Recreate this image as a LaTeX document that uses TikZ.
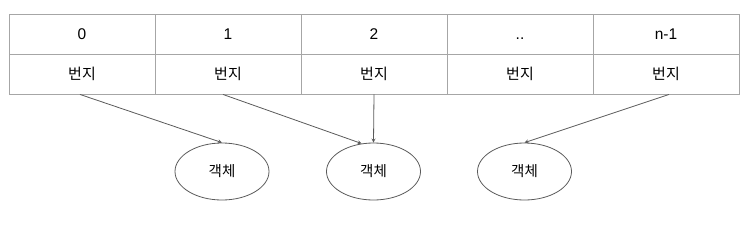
\documentclass[tikz,border=0pt]{standalone}
\usepackage{fontspec}
\usetikzlibrary{shapes.geometric}
\setmainfont{Liberation Sans}
\newfontfamily\kofont{Noto Sans CJK KR}
\definecolor{cellgray}{HTML}{A6A6A6}
\definecolor{arrowgray}{HTML}{5A5A5A}
\tikzset{
	cell/.style={draw=cellgray, line width=0.9pt, minimum width=146pt, minimum height=40pt, inner sep=0pt, text height=11pt, text depth=1pt, font=\fontsize{15.5}{17}\selectfont},
	obj/.style={draw=arrowgray, ellipse, line width=0.8pt, minimum width=94pt, minimum height=57pt, inner sep=0pt, font=\kofont\fontsize{14.5}{16}\selectfont},
	ref/.style={->, draw=arrowgray, line width=0.8pt}
}
\begin{document}
\begin{tikzpicture}[>=stealth, x=1pt, y=1pt]
	
	\useasboundingbox (0,0) rectangle (744,-225);
	
	\def\W{146}
	\def\xo{9}
	
	% index row and address row
	\foreach \i/\lbl in {0/0, 1/1, 2/2, 3/.., 4/n-1}{
		\pgfmathsetmacro{\xpos}{\xo + \W/2 + \i*\W}
		\node[cell] (idx\i) at (\xpos, -34) {\lbl};
		\node[cell, text height=13pt, text depth=2pt] (addr\i) at (\xpos, -74) {\kofont\fontsize{15}{17}\selectfont 번지};
	}
	
	% objects
	\node[obj] (obj1) at (222, -171.5) {객체};
	\node[obj] (obj2) at (373.5, -171.5) {객체};
	\node[obj] (obj3) at (524.5, -171.5) {객체};
	
	\draw[ref] ([xshift=-2pt]addr0.south) -- (obj1.north);
	\draw[ref] ([xshift=-5pt]addr1.south) -- (obj2.113);
	\draw[ref] (addr2.south) -- (obj2.north);
	\draw[ref] ([xshift=3pt]addr4.south) -- (obj3.north);
	
\end{tikzpicture}
\end{document}
